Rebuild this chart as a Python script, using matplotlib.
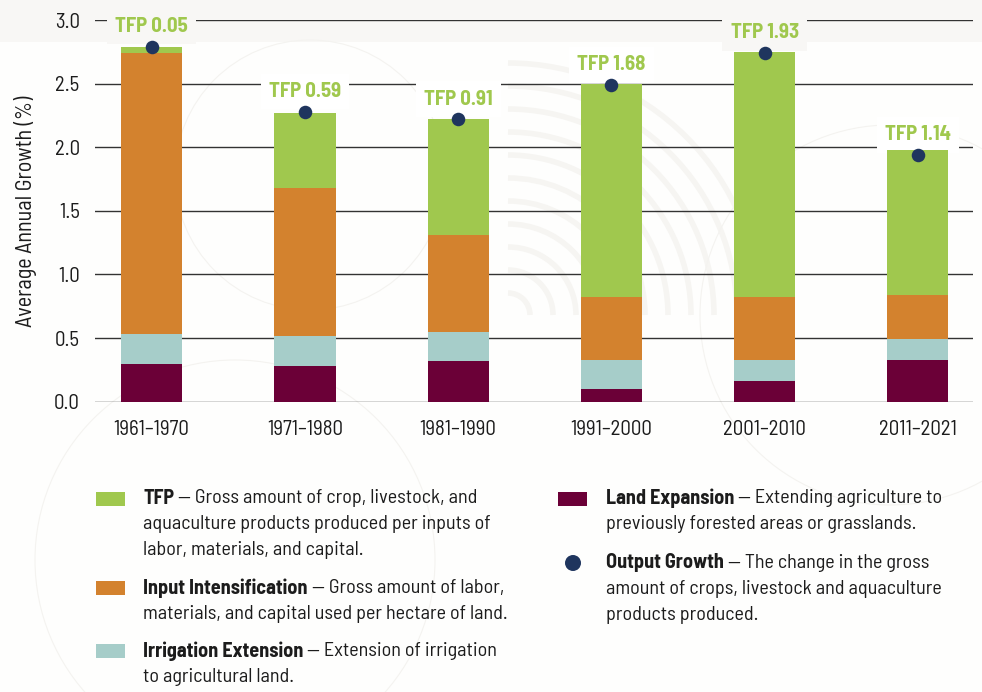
import matplotlib
matplotlib.use("Agg")
import matplotlib.pyplot as plt
from matplotlib.patches import Rectangle, Arc, Circle
from matplotlib.transforms import IdentityTransform

plt.rcParams["font.family"] = ["Barlow Semi Condensed", "DejaVu Sans"]

# Data (average annual growth, %)
periods = ["1961–1970", "1971–1980", "1981–1990", "1991–2000", "2001–2010", "2011–2021"]
land = [0.30, 0.28, 0.32, 0.10, 0.16, 0.33]
irrigation = [0.23, 0.24, 0.23, 0.23, 0.17, 0.16]
intensification = [2.21, 1.16, 0.76, 0.49, 0.49, 0.35]
tfp = [0.05, 0.59, 0.91, 1.68, 1.93, 1.14]
output_growth = [2.79, 2.28, 2.22, 2.49, 2.74, 1.94]

c_tfp = "#a0c84e"
c_int = "#d3822e"
c_irr = "#a6cdc9"
c_land = "#6b0037"
c_dot = "#1f355e"
c_text = "#1c1c1c"
c_bg = "#fefefd"
c_band = "#f8f7f5"

W, H = 982, 692
fig = plt.figure(figsize=(W / 100, H / 100), dpi=100, facecolor=c_bg)

# faint background decoration
px = IdentityTransform()
fig.add_artist(Rectangle((0, H - 42), W, 42, transform=px, fc=c_band, ec="none", zorder=-5))
for r in range(22, 260, 23):
    fig.add_artist(Arc((508, H - 315), 2 * r, 2 * r, theta1=0, theta2=90, transform=px,
                       color="#f6f5f2", lw=4, zorder=-4))
for cx, cy, r in [(310, 175, 135), (890, 315, 190), (235, 560, 200)]:
    fig.add_artist(Circle((cx, H - cy), r, transform=px, fill=False, ec="#f4f3f0", lw=0.8, zorder=-4))

ax = fig.add_axes([95 / W, (H - 401.7) / H, 878 / W, 381.7 / H])
ax.patch.set_alpha(0)

x = range(len(periods))
bw = 0.40
b1 = land
b2 = [a + b for a, b in zip(b1, irrigation)]
b3 = [a + b for a, b in zip(b2, intensification)]

ax.bar(x, land, bw, color=c_land, zorder=2)
ax.bar(x, irrigation, bw, bottom=b1, color=c_irr, zorder=2)
ax.bar(x, intensification, bw, bottom=b2, color=c_int, zorder=2)
ax.bar(x, tfp, bw, bottom=b3, color=c_tfp, zorder=2)
ax.scatter(x, output_growth, s=95, color=c_dot, zorder=4, linewidths=0)

ax.set_ylim(0, 3.0)
ax.set_xlim(-0.37, 5.36)

for i, v in enumerate(tfp):
    # label box takes the colour of the background behind it, sits under the bars
    ypx = ax.transData.transform((i, output_growth[i]))[1] + 20
    box_fc = c_band if ypx > H - 42 else "white"
    ax.annotate(f"TFP {v:.2f}", (i, output_growth[i]), xytext=(0, 14.5), textcoords="offset points",
                ha="center", va="center", color=c_tfp, fontsize=15, fontweight="bold",
                zorder=1.5, bbox=dict(boxstyle="square,pad=0.4", fc=box_fc, ec="none"))

ax.set_yticks([0, 0.5, 1.0, 1.5, 2.0, 2.5, 3.0])
ax.set_yticklabels([f"{t:.1f}" for t in [0, 0.5, 1.0, 1.5, 2.0, 2.5, 3.0]])
ax.set_xticks(list(x))
ax.set_xticklabels(periods)
ax.tick_params(axis="y", length=0, pad=11, labelsize=15, labelcolor=c_text)
ax.tick_params(axis="x", length=0, pad=13, labelsize=15, labelcolor=c_text)
ax.grid(axis="y", color="#333333", lw=1.0, zorder=0)
ax.set_axisbelow(True)
for s in ax.spines.values():
    s.set_visible(False)

fig.text(26 / W, 1 - 211 / H, "Average Annual Growth (%)", rotation=90, ha="center", va="center",
         fontsize=16, color=c_text)

# legend
renderer = fig.canvas.get_renderer()
fs = 14.5
lh = 25.8


def entry(tx, ty, bold, first, rest):
    t = fig.text(tx / W, 1 - ty / H, bold, fontweight="bold", fontsize=fs, color=c_text, va="center")
    wpx = t.get_window_extent(renderer=renderer).width
    fig.text((tx + wpx) / W, 1 - ty / H, first, fontsize=fs, color=c_text, va="center")
    for k, line in enumerate(rest):
        fig.text(tx / W, 1 - (ty + lh * (k + 1)) / H, line, fontsize=fs, color=c_text, va="center")


def swatch(sx, sy, color):
    fig.add_artist(Rectangle((sx, H - sy - 7), 29, 14, transform=px, fc=color, ec="none"))


swatch(96, 499, c_tfp)
entry(143, 498, "TFP", " — Gross amount of crop, livestock, and",
      ["aquaculture products produced per inputs of", "labor, materials, and capital."])
swatch(96, 587.5, c_int)
entry(143, 588, "Input Intensification", " — Gross amount of labor,",
      ["materials, and capital used per hectare of land."])
swatch(96, 650.5, c_irr)
entry(143, 651, "Irrigation Extension", " — Extension of irrigation",
      ["to agricultural land."])
swatch(558, 499, c_land)
entry(606, 498, "Land Expansion", " — Extending agriculture to",
      ["previously forested areas or grasslands."])
fig.add_artist(Circle((573, H - 563), 8, transform=px, fc=c_dot, ec="none"))
entry(606, 563, "Output Growth", " — The change in the gross",
      ["amount of crops, livestock and aquaculture", "products produced."])

fig.savefig("out.png", dpi=100)
